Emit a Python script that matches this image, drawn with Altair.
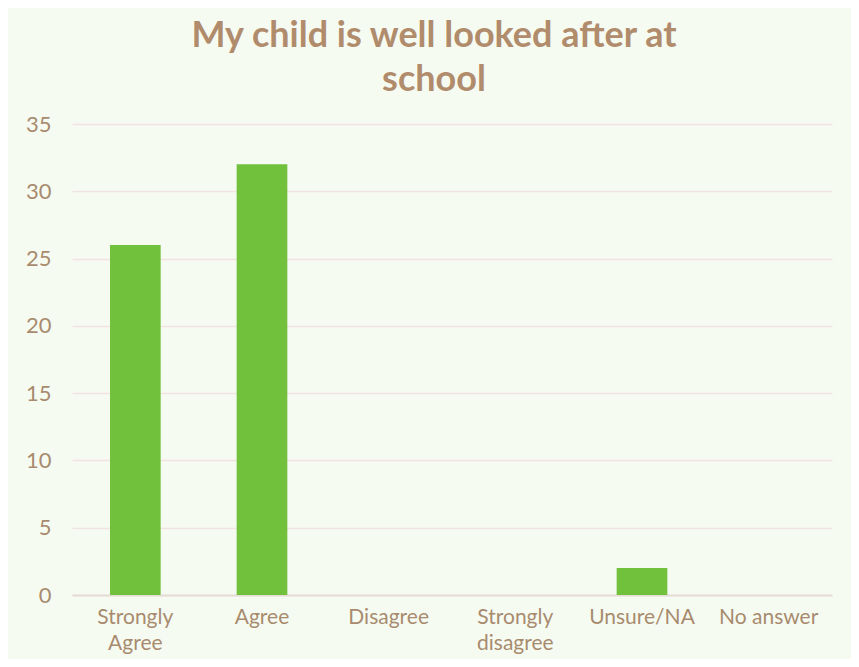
import altair as alt
import pandas as pd

categories = ["Strongly Agree", "Agree", "Disagree", "Strongly disagree", "Unsure/NA", "No answer"]
counts = [26, 32, 0, 0, 2, 0]

df = pd.DataFrame({"category": categories, "count": counts})

FONT = "Lato"
BROWN = "#A88B6E"

chart = alt.Chart(df).mark_bar(color="#71C13C").encode(
    x=alt.X("category:N", sort=categories,
            scale=alt.Scale(paddingInner=0.6, paddingOuter=0.3),
            axis=alt.Axis(title=None, labelAngle=0, ticks=False, domain=True,
                          domainColor="#E4DCD5", domainWidth=2,
                          labelFontSize=21, labelColor=BROWN, labelFont=FONT,
                          labelPadding=11, labelLineHeight=26, labelLimit=200,
                          labelExpr="indexof(datum.label,'Strongly')==0 ? split(datum.label,' ') : datum.label")),
    y=alt.Y("count:Q", scale=alt.Scale(domain=[0, 35]),
            axis=alt.Axis(title=None, values=[0, 5, 10, 15, 20, 25, 30, 35],
                          ticks=False, domain=False, grid=True,
                          gridColor="#F1E3E1", gridWidth=1.5,
                          labelFontSize=22, labelColor=BROWN, labelFont=FONT,
                          labelPadding=21)),
).properties(
    width=760,
    height=471,
    title=alt.TitleParams(
        text=["My child is well looked after at", "school"],
        fontSize=36, fontWeight="bold", color="#B08C6C", font=FONT,
        anchor="middle", lineHeight=44, offset=14, dx=-18,
    ),
    autosize=alt.AutoSizeParams(type="none"),
    padding={"left": 64, "top": 116, "right": 19, "bottom": 64},
).configure(
    background="#F6FBF2",
).configure_view(
    stroke=None,
)

chart.save("out.html", embed_options={"renderer": "svg", "actions": False})
